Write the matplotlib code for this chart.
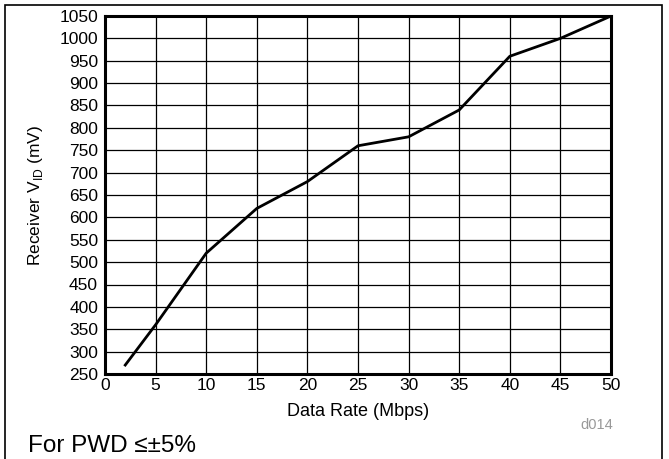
import matplotlib.pyplot as plt
from matplotlib.patches import Rectangle

plt.rcParams['font.family'] = ['Liberation Sans', 'DejaVu Sans']

data_rate = [2, 5, 10, 15, 20, 25, 30, 35, 40, 45, 50]
receiver_vid = [270, 360, 520, 620, 680, 760, 780, 840, 960, 1000, 1050]

x_ticks = list(range(0, 55, 5))
y_ticks = list(range(250, 1100, 50))

fig = plt.figure(figsize=(6.69, 4.59), dpi=100)
ax = fig.add_axes([105 / 669, 1 - 374 / 459, (611 - 105) / 669, (374 - 16) / 459])

ax.plot(data_rate, receiver_vid, color='black', linewidth=2, zorder=3)

ax.set_xlim(0, 50)
ax.set_ylim(250, 1050)
ax.set_xticks(x_ticks)
ax.set_yticks(y_ticks)
ax.tick_params(length=0, labelsize=12.5)
ax.tick_params(axis='y', pad=5)
ax.tick_params(axis='x', pad=3)
ax.grid(True, color='black', linewidth=0.9)
for s in ax.spines.values():
    s.set_linewidth(2.2)

ax.set_xlabel("Data Rate (Mbps)", fontsize=13, labelpad=7)
ax.set_ylabel("Receiver V$_{\\mathregular{ID}}$ (mV)", fontsize=12.5, labelpad=10)

fig.text(597 / 669, 1 - 425 / 459, "d014", fontsize=10.5, color='#999999', ha='center', va='center')
fig.text(28 / 669, 1 - 446 / 459, "For PWD ≤±5%", fontsize=17.5, ha='left', va='center')

# outer frame, open at the bottom
fig.add_artist(Rectangle((5 / 669, -0.1), (662 - 5) / 669, 1.1 - 5 / 459,
                         transform=fig.transFigure, fill=False, edgecolor='black', linewidth=1.2))

fig.savefig("out.png", dpi=100)
